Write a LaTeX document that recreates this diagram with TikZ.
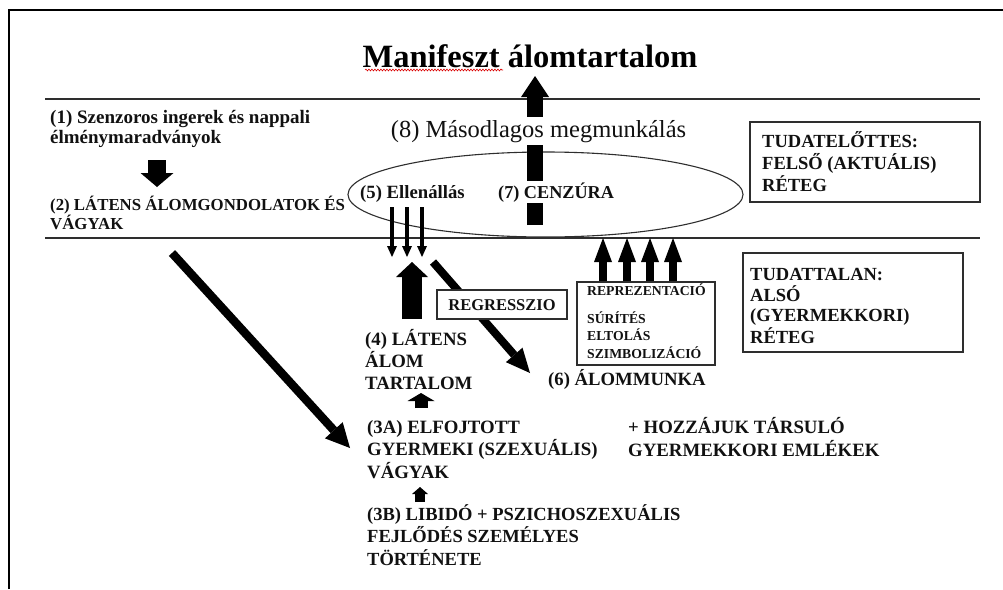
\documentclass[tikz,border=0pt]{standalone}
\usepackage{fontspec}
\setmainfont{Liberation Serif}
\usetikzlibrary{arrows.meta,shapes.geometric,decorations.pathmorphing}
\definecolor{ink}{HTML}{111111}
\definecolor{rulegray}{HTML}{2E2E2E}
\newcommand{\fsz}[2]{\fontsize{#1}{#2}\selectfont}
% left-aligned block of lines whose baseline is that of its first line
\newcommand{\lines}[1]{\begin{tabular}[t]{@{}l@{}}#1\end{tabular}}

\begin{document}
\begin{tikzpicture}[x=1pt,y=-1pt,
  txt/.style={inner sep=0pt, text=ink, anchor=base west},
  bf/.style 2 args={font=\bfseries\fsz{#1}{#2}},
  boxed/.style={draw=rulegray, line width=1.2pt, inner sep=0pt},
  layer/.style={draw=rulegray, line width=1.4pt},
  fat/.style n args={3}{draw=black, line width=#1,
     -{Triangle[width=#2,length=#3,line width=0pt]}},
]
\useasboundingbox (0,0) rectangle (1003,589);

% outer frame (top and left edges only)
\draw[black, line width=2.6pt] (9,589) -- (9,10) -- (1003,10);

% layer boundaries
\draw[layer] (45,99) -- (980,99);
\draw[layer] (45,238) -- (980,238);

% censorship ellipse
\node[draw=rulegray, ellipse, line width=1.1pt, minimum width=395pt,
      minimum height=85pt, inner sep=0pt] (ell) at (545.5,194.5) {};

% title
\node[txt, bf={32.5}{39}, text=black, anchor=base] (title) at (530,67)
  {Manifeszt álomtartalom};
\draw[red!85!black, line width=0.6pt,
      decorate, decoration={snake, amplitude=0.9pt, segment length=3pt}]
  (365,70) -- (503,70);

% main bar rising from the censorship to the manifest content
\coordinate (cz) at (535,225);
\draw[fat={16pt}{28pt}{21pt}] (cz) -- (535,76);

% texts
\node[txt, bf={19}{20}] (n1) at (50,123)
  {\lines{(1) Szenzoros ingerek és nappali\\élménymaradványok}};
\node[txt, bf={16.8}{18}] (n2) at (50,210)
  {\lines{(2) LÁTENS ÁLOMGONDOLATOK ÉS\\VÁGYAK}};
\node[anchor=base, fill=white, inner xsep=2pt, inner ysep=3pt,
      font=\fsz{24.5}{28}, text=ink] (n8) at (538.5,137)
  {(8) Másodlagos megmunkálás};
\node[txt, bf={18.7}{22}] (n5) at (360,198) {(5) Ellenállás};
\node[txt, bf={18.2}{22}, fill=white, inner sep=1pt] (n7) at (497,198)
  {(7) CENZÚRA};

% layer boxes
\node[boxed, minimum width=230pt, minimum height=80pt] (pre-box) at (865,162) {};
\node[txt, bf={18.5}{20.5}] (pre) at (762,147)
  {\lines{TUDATELŐTTES:\\FELSŐ (AKTUÁLIS)\\RÉTEG}};
\node[boxed, minimum width=220pt, minimum height=99pt] (unc-box) at (853,302.5) {};
\node[txt, bf={18.5}{20}] (unc) at (750,280)
  {\lines{TUDATTALAN:\\ALSÓ\\(GYERMEKKORI)\\RÉTEG}};

\node[txt, bf={18.8}{21.5}] (n4) at (365,345) {\lines{(4) LÁTENS\\ÁLOM\\TARTALOM}};
\node[txt, bf={18.7}{22}] (n6) at (548,385) {(6) ÁLOMMUNKA};
\node[txt, bf={18.8}{22}] (n3a) at (367,433)
  {\lines{(3A) ELFOJTOTT\\GYERMEKI (SZEXUÁLIS)\\VÁGYAK}};
\node[txt, bf={18.8}{23.5}] (assoc) at (628,433)
  {\lines{+ HOZZÁJUK TÁRSULÓ\\GYERMEKKORI EMLÉKEK}};
\node[txt, bf={18.5}{22.5}] (n3b) at (367,520)
  {\lines{(3B) LIBIDÓ + PSZICHOSZEXUÁLIS\\FEJLŐDÉS SZEMÉLYES\\TÖRTÉNETE}};

% dream-work box
\node[boxed, minimum width=138pt, minimum height=83pt] (rep-box) at (646,323.5) {};
\node[txt, bf={13.7}{17.5}] (rep) at (587,295)
  {\lines{REPREZENTACIÓ\\[10.5pt]SÚRÍTÉS\\ELTOLÁS\\SZIMBOLIZÁCIÓ}};

% connectors
\coordinate (n1-out) at (157,160);
\coordinate (n2-in) at (157,187);
\draw[fat={18pt}{33pt}{14pt}] (n1-out) -- (n2-in);

\foreach \x in {392,407,422}
  \draw[fat={3.5pt}{10pt}{11pt}] (\x,207) -- (\x,257);

\coordinate (n4-out) at (412,319);
\draw[fat={20pt}{32pt}{15pt}] (n4-out) -- (412,262);

\coordinate (reg-from) at (433,262);
\coordinate (n6-in) at (530,373);
\draw[fat={8pt}{22pt}{24pt}] (reg-from) -- (n6-in);
\node[boxed, fill=white, bf={16.5}{18}, text=ink, minimum width=130pt,
      minimum height=29pt, text height=11pt, text depth=0pt] (reg)
  at (502,304.5) {REGRESSZIO};

\foreach \x in {603,627,650,673}
  \draw[fat={8pt}{18pt}{24pt}] (rep-box.north -| \x,0) -- (\x,238);

\coordinate (n2-out) at (172,253);
\coordinate (n3a-in) at (350,448);
\draw[fat={8.5pt}{24pt}{24pt}] (n2-out) -- (n3a-in);

\draw[fat={13pt}{27pt}{8pt}] (421,408) -- (421,393);
\draw[fat={10pt}{16pt}{7pt}] (420,502) -- (420,487);
\end{tikzpicture}
\end{document}
